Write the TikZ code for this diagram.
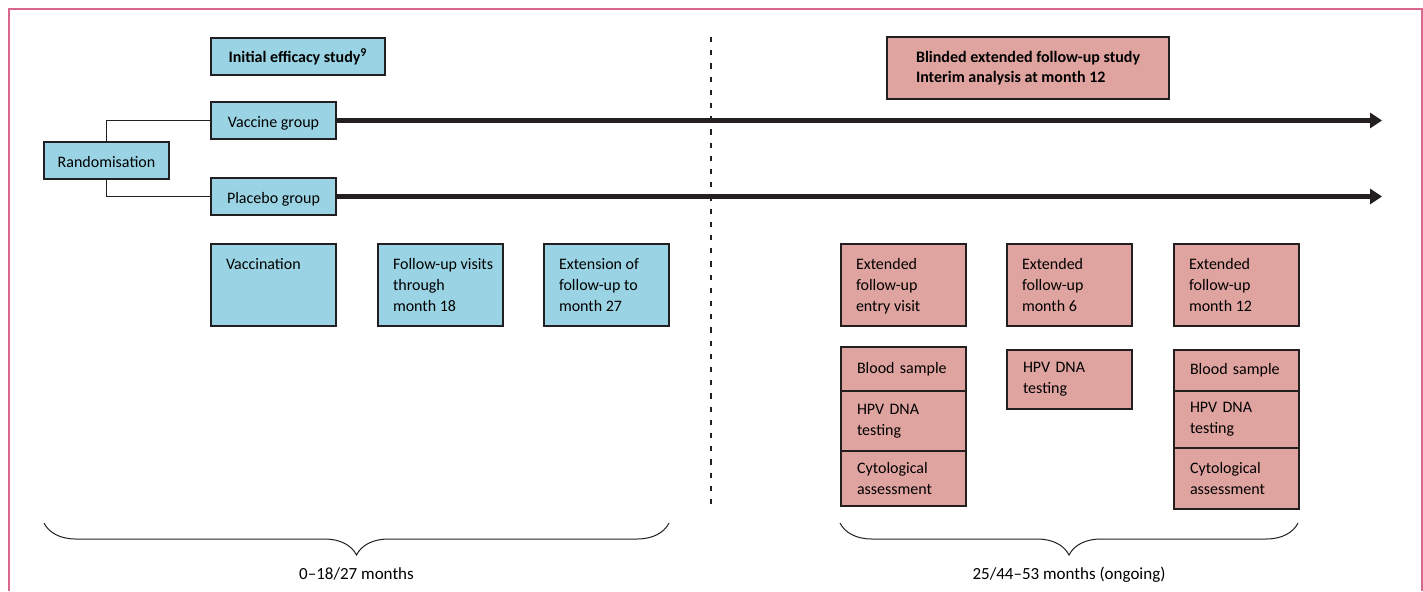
\documentclass[tikz,border=0pt]{standalone}
\usepackage{fontspec}
\setmainfont{Carlito}
\usepackage{xcolor}
\definecolor{cyanfill}{HTML}{9AD4E4}
\definecolor{rosefill}{HTML}{E0A4A0}
\definecolor{edge}{HTML}{231F20}
\definecolor{framepink}{HTML}{D9668D}
\usetikzlibrary{arrows.meta,positioning,decorations.pathreplacing}
\newcommand{\toptext}[1]{\parbox[c][30pt][t]{47.5pt}{\strut\begin{tabular}[t]{@{}l@{}}#1\end{tabular}}}
\tikzset{
  box/.style={draw=edge,line width=0.6pt,outer sep=0pt,anchor=north west,font=\fontsize{8}{10.4}\selectfont},
  rowbox/.style={box,fill=cyanfill,align=center,inner xsep=0pt,inner ysep=0pt,minimum width=62.5pt,minimum height=18.5pt,text height=7.6pt,text depth=1pt},
  titlebox/.style={box,align=left,inner sep=0pt,font=\fontsize{8}{10}\selectfont\bfseries},
  topcell/.style={box,inner xsep=7.5pt,inner ysep=5.5pt,minimum width=62.5pt,minimum height=41pt},
  subcell/.style={box,fill=rosefill,align=left,text width=46.5pt,inner xsep=8pt,inner ysep=0pt},
  thin/.style={draw=edge,line width=0.5pt},
  bigarr/.style={draw=edge,line width=2.5pt,-{Triangle[length=6pt,width=7.5pt]}},
  divider/.style={draw=edge,line width=1pt,dash pattern=on 2.6pt off 4pt},
  span/.style={decorate,decoration={brace,mirror,amplitude=16pt},draw=edge,line width=0.5pt},
  lab/.style={font=\fontsize{8.5}{10}\selectfont,anchor=base},
}
\begin{document}
\begin{tikzpicture}[x=0.5pt,y=-0.5pt]
\useasboundingbox (0,0) rectangle (1423,591);
\draw[framepink,line width=1pt] (9,591) -- (9,9) -- (1421.5,9) -- (1421.5,591);

% dividing line between the two studies
\coordinate (dtop) at (711,37);
\coordinate (dbot) at (711,512);
\draw[divider] (dtop) -- (dbot);

% study titles
\node[titlebox,fill=cyanfill,minimum width=87pt,minimum height=18.5pt] (initial) at (211,38) {Initial efficacy study\textsuperscript{9}};
\node[titlebox,fill=rosefill,minimum width=141pt,minimum height=31pt] (blinded) at (887,37) {Blinded extended follow-up study\\Interim analysis at month 12};

% randomisation
\node[rowbox] (rand) at (44,142) {Randomisation};
\node[rowbox] (vacgrp) at (211,102) {Vaccine group};
\node[rowbox] (plcgrp) at (211,178) {Placebo group};
\draw[thin] (rand.north) |- (vacgrp.west);
\draw[thin] (rand.south) |- (plcgrp.west);

\coordinate (tipx) at (1382,0);
\draw[bigarr] (vacgrp.east) -- (vacgrp.east -| tipx);
\draw[bigarr] (plcgrp.east) -- (plcgrp.east -| tipx);

% initial study visits
\node[topcell,fill=cyanfill] (vaccination) at (211,244) {\toptext{Vaccination}};
\node[topcell,fill=cyanfill] (fuvisits) at (378,244) {\toptext{Follow-up visits\\through\\month 18}};
\node[topcell,fill=cyanfill] (fuext) at (544,244) {\toptext{Extension of\\follow-up to\\month 27}};

% extended follow-up visits
\node[topcell,fill=rosefill] (extentry) at (841,244) {\toptext{Extended\\follow-up\\entry visit}};
\node[topcell,fill=rosefill] (ext6) at (1007,244) {\toptext{Extended\\follow-up\\month 6}};
\node[topcell,fill=rosefill] (ext12) at (1174,244) {\toptext{Extended\\follow-up\\month 12}};

\node[subcell,minimum height=22pt] (blood0) at (841,347) {Blood sample};
\node[subcell,minimum height=30pt,below=0pt of blood0] (hpv0) {HPV DNA\\testing};
\node[subcell,minimum height=27.5pt,below=0pt of hpv0] (cyto0) {Cytological\\assessment};

\node[subcell,minimum height=29.5pt] (hpv6) at (1007,350) {HPV DNA\\testing};

\node[subcell,minimum height=20.5pt] (blood12) at (1174,350) {Blood sample};
\node[subcell,minimum height=28.5pt,below=0pt of blood12] (hpv12) {HPV DNA\\testing};
\node[subcell,minimum height=30.5pt,below=0pt of hpv12] (cyto12) {Cytological\\assessment};

% time spans
\coordinate (s1a) at (44,523);
\coordinate (s1b) at (669,523);
\coordinate (s2a) at (840,523);
\coordinate (s2b) at (1298,523);
\draw[span] (s1a) -- (s1b);
\draw[span] (s2a) -- (s2b);
\node[lab] (span1) at (356.5,579) {0--18/27 months};
\node[lab] (span2) at (1069,579) {25/44--53 months (ongoing)};
\end{tikzpicture}
\end{document}
